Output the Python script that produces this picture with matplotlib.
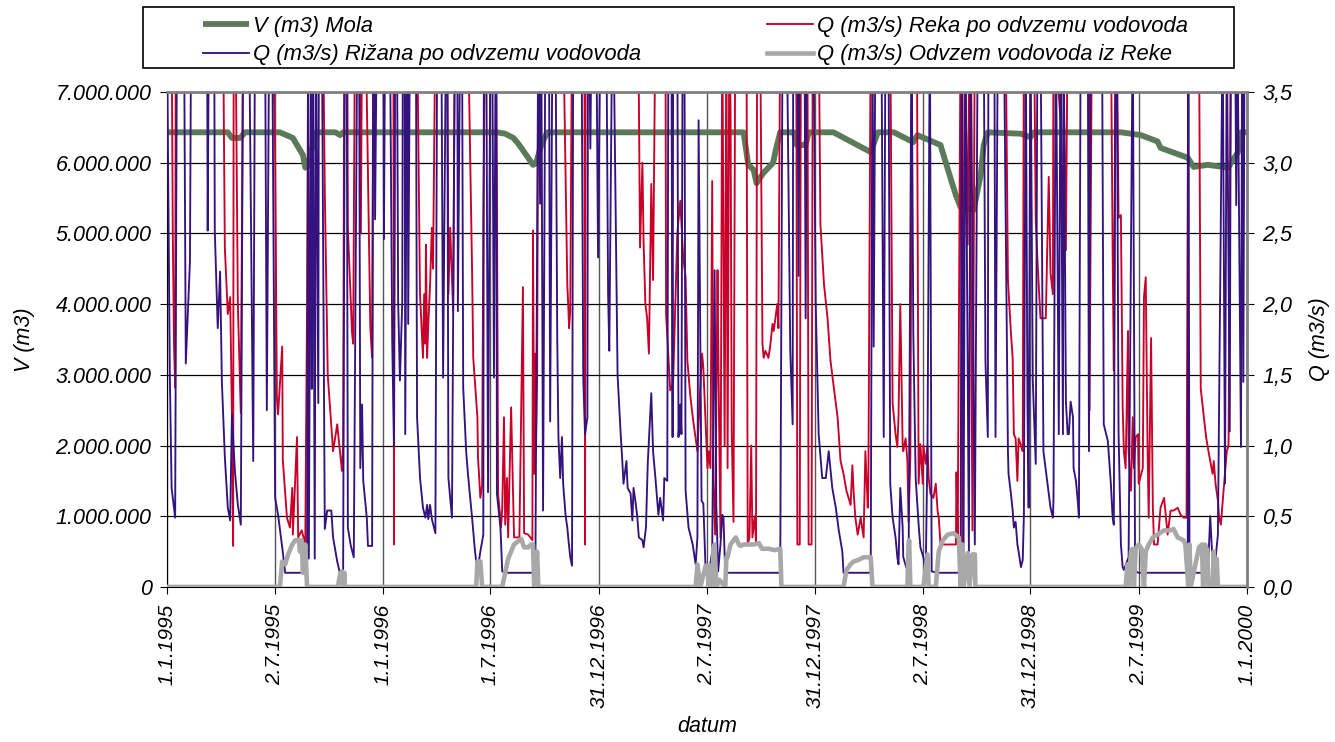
import numpy as np
import matplotlib
matplotlib.use('Agg')
from matplotlib import pyplot as plt
from matplotlib.ticker import FuncFormatter, MultipleLocator
from matplotlib.patches import Rectangle

plt.rcParams['font.family'] = ['Liberation Sans', 'DejaVu Sans']
plt.rcParams['font.style'] = 'italic'

# zacetek obdobja, vsi "dan" so dnevi od 1.1.1995
zacetek = np.datetime64('1995-01-01')

# V (m3) Mola - volumen v milijonih m3
mola_dan = [0, 103, 110, 124, 132, 191, 213, 225, 230, 234, 238, 252, 285, 293, 298,
            558, 572, 586, 594, 600, 610, 619, 624, 633, 643, 975, 983, 992, 997, 1008,
            1025, 1030, 1037, 1060, 1065, 1080, 1085, 1127, 1190, 1202, 1229, 1262, 1269,
            1308, 1325, 1334, 1342, 1364, 1376, 1381, 1388, 1444, 1460, 1466, 1613, 1647,
            1675, 1680, 1726, 1736, 1760, 1794, 1811, 1816, 1826]
mola_v = [6.43, 6.43, 6.35, 6.35, 6.43, 6.43, 6.35, 6.18, 6.11, 5.93, 5.95, 6.43, 6.43, 6.39, 6.43,
          6.43, 6.41, 6.35, 6.27, 6.20, 6.08, 5.97, 5.99, 6.25, 6.43, 6.43, 5.97, 5.90, 5.71, 5.85,
          6.00, 6.20, 6.43, 6.43, 6.25, 6.25, 6.43, 6.43, 6.15, 6.43, 6.43, 6.29, 6.39,
          6.25, 5.78, 5.54, 5.37, 5.33, 5.83, 6.25, 6.43, 6.41, 6.36, 6.43, 6.43, 6.39,
          6.30, 6.21, 6.07, 5.94, 5.97, 5.93, 6.15, 6.43, 6.43]

# Q (m3/s) Reka po odvzemu vodovoda (4.0 = nad robom grafa)
reka_dan = [0, 8, 10, 12, 14, 15, 95, 98, 103, 107, 110, 112, 113, 116, 120, 125, 129,
            179, 183, 186, 188, 195, 196, 203, 208, 212, 213, 220, 222, 228, 234, 237, 239,
            264, 267, 272, 279, 281, 288, 296, 298, 300, 305, 306, 313, 315, 318, 326, 328,
            330, 336, 344, 347, 349, 383, 384, 385, 405, 406, 408, 423, 428, 433, 435, 437,
            438, 440, 442, 445, 448, 450, 454, 474, 476, 479, 484, 487, 509, 516, 518, 525,
            526, 530, 533, 535, 538, 556, 558, 560, 565, 567, 570, 572, 575, 577, 582, 587,
            596, 602, 604, 611, 618, 619, 621, 623, 624, 626, 628, 670, 677, 679, 680, 682,
            685, 706, 707, 708, 797, 800, 804, 806, 809, 812, 815, 819, 822, 826, 843, 844,
            851, 855, 856, 863, 868, 873, 877, 880, 885, 890, 897, 902, 905, 907, 914, 916,
            919, 922, 924, 927, 931, 932, 936, 939, 943, 946, 948, 951, 953, 955, 958, 961,
            980, 982, 985, 988, 990, 994, 996, 998, 1003, 1007, 1009, 1012, 1017, 1020, 1024,
            1026, 1032, 1034, 1037, 1064, 1066, 1070, 1072, 1083, 1085, 1090, 1092, 1102,
            1105, 1111, 1117, 1122, 1127, 1134, 1139, 1144, 1149, 1156, 1159, 1161, 1164,
            1168, 1173, 1178, 1181, 1185, 1186, 1190, 1223, 1227, 1232, 1235, 1237, 1240,
            1244, 1245, 1249, 1252, 1254, 1257, 1260, 1268, 1271, 1274, 1278, 1279, 1283,
            1286, 1288, 1291, 1296, 1300, 1303, 1305, 1308, 1334, 1335, 1337, 1342, 1345,
            1349, 1354, 1357, 1362, 1366, 1418, 1422, 1427, 1430, 1432, 1435, 1438, 1440,
            1444, 1447, 1449, 1466, 1469, 1472, 1477, 1486, 1489, 1491, 1494, 1498, 1499,
            1511, 1515, 1520, 1523, 1559, 1560, 1564, 1596, 1599, 1601, 1604, 1606, 1609,
            1613, 1616, 1618, 1621, 1625, 1626, 1630, 1633, 1635, 1638, 1642, 1643, 1650,
            1652, 1655, 1658, 1660, 1664, 1667, 1669, 1675, 1680, 1686, 1692, 1697, 1702,
            1709, 1714, 1719, 1724, 1727, 1745, 1748, 1752, 1757, 1761, 1768, 1770, 1773,
            1777, 1779, 1782, 1785, 1792, 1795, 1799, 1826]
reka_q = [4.0, 4.0, 2.5, 1.72, 1.41, 4.0, 4.0, 2.4, 1.93, 2.05, 1.22, 0.29, 4.0, 4.0, 2.0, 1.23, 4.0,
          4.0, 3.1, 1.34, 1.22, 1.7, 0.9, 0.49, 0.42, 0.7, 0.37, 1.06, 0.35, 0.4, 0.3, 2.0, 4.0,
          4.0, 2.8, 1.5, 1.08, 0.96, 1.15, 0.82, 1.0, 4.0, 4.0, 2.54, 1.8, 1.72, 4.0, 4.0, 2.5,
          4.0, 4.0, 1.83, 1.62, 4.0, 4.0, 0.3, 4.0, 4.0, 2.9, 4.0, 4.0, 2.07, 1.62, 2.07, 1.72,
          2.42, 1.62, 1.86, 2.14, 2.54, 2.25, 4.0, 4.0, 2.07, 2.54, 1.95, 4.0, 4.0, 2.24, 1.62, 1.2,
          0.92, 0.63, 0.72, 2.6, 4.0, 4.0, 2.8, 0.66, 0.42, 0.56, 1.2, 0.44, 0.77, 0.35, 1.27, 0.35,
          0.35, 2.12, 0.38, 0.37, 0.33, 2.52, 0.8, 1.65, 0.96, 1.48, 4.0, 4.0, 2.14, 1.95, 1.83, 1.95,
          4.0, 4.0, 0.3, 4.0, 4.0, 2.4, 3.0, 2.44, 2.0, 1.9, 1.65, 2.85, 2.17, 4.0, 4.0, 1.93,
          1.39, 1.43, 1.46, 2.5, 2.73, 2.33, 2.19, 1.6, 1.35, 1.17, 0.96, 1.43, 1.65, 1.55, 0.84, 0.96,
          0.84, 2.87, 0.73, 0.37, 2.24, 1.76, 0.35, 4.0, 1.0, 4.0, 0.84, 4.0, 3.38, 1.1, 0.46, 4.0,
          4.0, 0.3, 0.35, 1.0, 0.35, 0.5, 0.32, 4.0, 4.0, 1.72, 1.62, 1.67, 1.62, 1.7, 1.86,
          1.81, 2.0, 1.83, 4.0, 4.0, 0.3, 0.3, 4.0, 4.0, 0.3, 0.3, 4.0, 4.0,
          2.56, 2.14, 1.9, 1.6, 1.43, 1.2, 0.89, 0.8, 0.68, 0.58, 0.86, 0.68, 0.49,
          0.37, 0.49, 0.35, 0.96, 0.56, 0.7, 4.0, 4.0, 1.3, 1.08, 0.99, 1.2, 2.0,
          1.0, 0.96, 1.05, 0.89, 0.46, 0.92, 4.0, 4.0, 0.73, 1.01, 0.73, 1.0, 0.87,
          1.0, 0.77, 0.66, 0.63, 0.73, 0.54, 0.49, 0.3, 0.3, 0.81, 0.3, 4.0, 0.3,
          4.0, 2.42, 4.0, 0.4, 4.0, 4.0, 2.17, 1.8, 1.62, 1.08, 1.05, 0.75, 1.05,
          1.0, 0.96, 4.0, 4.0, 2.6, 2.3, 1.9, 1.9, 2.5, 2.9, 2.22, 2.07, 4.0,
          3.3, 4.0, 2.38, 4.0, 4.0, 1.25, 4.0, 4.0, 2.38, 1.53, 4.0, 4.0, 2.61,
          2.63, 1.27, 0.96, 0.84, 1.81, 0.96, 0.68, 1.2, 0.84, 1.06, 1.08, 0.73, 0.84,
          2.05, 2.19, 1.0, 0.49, 1.76, 0.56, 0.3, 0.3, 0.56, 0.63, 0.37, 0.54, 0.54,
          0.56, 0.51, 0.49, 0.49, 4.0, 4.0, 1.4, 1.25, 1.06, 0.96, 0.8, 0.89, 0.73,
          0.61, 0.49, 0.44, 0.6, 0.96, 1.0, 4.0, 4.0]

# Q (m3/s) Rizana po odvzemu vodovoda
rizana_dan = [0, 5, 8, 14, 17, 29, 32, 39, 41, 68, 69, 71, 80, 81, 86, 90, 93, 98, 103, 107,
              110, 115, 120, 125, 129, 139, 146, 149, 166, 169, 173, 178, 183, 188, 195, 200,
              234, 237, 239, 240, 244, 245, 247, 250, 252, 256, 257, 262, 267, 271, 278, 281,
              288, 293, 298, 301, 304, 306, 311, 316, 322, 325, 327, 330, 332, 338, 340, 347,
              349, 351, 352, 355, 366, 367, 369, 377, 381, 384, 386, 389, 391, 394, 398, 399,
              402, 403, 406, 407, 408, 411, 421, 423, 428, 433, 437, 440, 442, 445, 448, 454,
              457, 464, 467, 472, 474, 476, 482, 487, 491, 492, 496, 499, 501, 506, 509, 516,
              521, 525, 530, 535, 536, 540, 543, 547, 550, 553, 556, 557, 558, 564, 567, 572,
              623, 628, 631, 633, 636, 640, 646, 648, 652, 657, 660, 662, 665, 668, 670, 674,
              677, 679, 682, 685, 687, 701, 704, 707, 711, 712, 714, 716, 718, 726, 729, 733,
              743, 746, 748, 753, 755, 762, 767, 770, 772, 777, 779, 784, 787, 789, 792, 795,
              798, 804, 806, 810, 813, 819, 822, 826, 829, 831, 834, 839, 841, 846, 848, 853,
              855, 856, 863, 865, 868, 870, 872, 875, 877, 882, 889, 894, 897, 899, 904, 907,
              911, 916, 922, 926, 929, 932, 936, 939, 941, 944, 1037, 1041, 1048, 1054, 1058,
              1059, 1066, 1068, 1070, 1078, 1080, 1082, 1093, 1097, 1100, 1102, 1108, 1114,
              1119, 1125, 1131, 1136, 1142, 1144, 1190, 1193, 1195, 1198, 1208, 1212, 1215,
              1220, 1223, 1227, 1232, 1235, 1237, 1240, 1244, 1245, 1250, 1254, 1259, 1262,
              1266, 1271, 1274, 1279, 1283, 1286, 1290, 1293, 1303, 1342, 1344, 1347, 1350,
              1356, 1359, 1366, 1371, 1381, 1384, 1388, 1389, 1399, 1401, 1405, 1415, 1422,
              1423, 1427, 1430, 1432, 1435, 1438, 1440, 1444, 1447, 1449, 1452, 1455, 1457,
              1460, 1464, 1469, 1472, 1477, 1482, 1489, 1494, 1498, 1499, 1503, 1508, 1511,
              1515, 1516, 1520, 1523, 1525, 1528, 1532, 1533, 1537, 1540, 1542, 1545, 1557,
              1559, 1562, 1581, 1584, 1591, 1596, 1599, 1601, 1604, 1606, 1609, 1613, 1616,
              1618, 1626, 1633, 1637, 1643, 1726, 1727, 1729, 1760, 1764, 1769, 1772, 1777,
              1785, 1789, 1792, 1797, 1799, 1806, 1808, 1810, 1816, 1818, 1820, 1822, 1826]
rizana_q = [4.0, 1.5, 0.7, 0.49, 4.0, 4.0, 1.58, 2.3, 4.0, 4.0, 2.52, 4.0, 4.0, 2.52, 1.83, 2.23, 1.45, 0.92, 0.56, 0.47,
            1.22, 0.82, 0.58, 0.44, 4.0, 4.0, 0.89, 4.0, 4.0, 1.25, 4.0, 4.0, 0.63, 0.51, 0.28, 0.1,
            0.1, 0.12, 4.0, 0.2, 4.0, 1.4, 4.0, 0.2, 4.0, 1.3, 4.0, 4.0, 0.41, 0.54, 0.54, 0.35,
            0.18, 0.09, 0.11, 4.0, 4.0, 0.42, 0.29, 0.21, 4.0, 4.0, 0.84, 1.29, 0.75, 0.49, 0.29, 0.29,
            4.0, 4.0, 2.6, 4.0, 4.0, 2.46, 4.0, 4.0, 1.74, 1.0, 4.0, 4.0, 2.02, 1.46, 2.02, 4.0,
            4.0, 1.08, 4.0, 4.0, 1.86, 4.0, 4.0, 1.2, 0.77, 0.56, 0.49, 0.58, 0.48, 0.58, 0.48, 0.38,
            4.0, 4.0, 1.48, 4.0, 4.0, 0.77, 0.49, 4.0, 4.0, 1.95, 4.0, 4.0, 1.41, 0.96, 0.8, 0.49,
            0.25, 0.11, 0.25, 0.37, 4.0, 4.0, 0.67, 4.0, 4.0, 1.48, 4.0, 4.0, 0.66, 0.42, 0.11, 0.1,
            0.1, 4.0, 2.71, 4.0, 0.54, 4.0, 4.0, 1.17, 4.0, 4.0, 1.76, 1.06, 0.77, 1.06, 0.73, 0.51,
            0.42, 0.33, 0.21, 0.15, 4.0, 4.0, 1.48, 1.08, 1.2, 4.0, 4.0, 3.1, 4.0, 4.0, 2.33, 4.0,
            4.0, 2.07, 1.67, 4.0, 4.0, 1.5, 1.1, 0.89, 0.73, 0.89, 0.7, 0.66, 0.47, 0.7, 0.61, 0.51,
            0.35, 0.33, 0.28, 0.42, 0.87, 1.37, 0.96, 0.77, 0.61, 0.51, 0.63, 0.47, 0.77, 0.75, 4.0, 4.0,
            1.06, 4.0, 4.0, 1.06, 1.29, 1.08, 4.0, 4.0, 0.68, 0.42, 0.3, 0.16, 0.35, 3.3, 0.61, 0.59,
            0.1, 0.09, 0.25, 2.24, 0.56, 0.11, 0.3, 0.51, 0.49, 0.1, 0.1, 4.0, 4.0, 1.67, 1.15,
            4.0, 4.0, 2.2, 4.0, 4.0, 1.9, 4.0, 4.0, 2.0, 1.46, 1.08, 0.77, 0.77,
            0.96, 0.7, 0.56, 0.4, 0.25, 0.1, 0.1, 4.0, 1.7, 4.0, 4.0, 1.06, 4.0,
            4.0, 0.73, 0.49, 0.35, 0.21, 0.16, 0.7, 0.42, 0.21, 0.14, 0.11, 4.0, 1.8,
            0.77, 0.44, 0.28, 0.21, 0.11, 0.99, 4.0, 0.11, 0.1, 0.1, 4.0, 0.3, 4.0,
            0.25, 4.0, 0.3, 4.0, 4.0, 1.59, 1.06, 4.0, 4.0, 1.06, 4.0, 4.0, 0.96,
            0.8, 0.66, 0.54, 0.42, 0.46, 0.3, 0.25, 0.14, 0.19, 0.51, 4.0, 1.29, 0.56,
            4.0, 1.46, 0.87, 4.0, 4.0, 0.96, 0.73, 0.56, 0.49, 0.61, 4.0, 1.08, 4.0,
            1.08, 4.0, 1.31, 1.08, 1.08, 1.31, 1.2, 0.84, 0.75, 0.61, 0.49, 4.0, 4.0,
            0.96, 4.0, 4.0, 1.15, 1.03, 0.73, 0.49, 0.44, 4.0, 4.0, 1.1, 0.3, 0.14,
            0.12, 0.21, 4.0, 0.11, 0.1, 0.1, 4.0, 0.1, 0.1, 0.5, 0.09, 0.16, 0.37,
            4.0, 0.73, 4.0, 1.1, 4.0, 4.0, 2.7, 4.0, 0.99, 4.0, 1.45, 4.0, 4.0]

# Q (m3/s) Odvzem vodovoda iz Reke
odvzem_dan = [0, 191, 195, 200, 205, 212, 217, 223, 225, 228, 230, 234, 237, 289, 293, 296, 298,
              300, 301, 523, 525, 530, 533, 567, 572, 577, 582, 587, 599, 604, 611, 616, 619, 621,
              626, 628, 894, 897, 902, 911, 914, 916, 919, 922, 924, 926, 929, 934, 944, 946, 948,
              953, 958, 962, 967, 970, 975, 982, 992, 1001, 1006, 1017, 1028, 1037, 1039, 1144,
              1149, 1156, 1161, 1169, 1178, 1190, 1193, 1252, 1254, 1255, 1257, 1279, 1286, 1288,
              1300, 1305, 1312, 1320, 1330, 1339, 1342, 1345, 1347, 1354, 1357, 1362, 1366, 1367,
              1621, 1624, 1626, 1630, 1633, 1635, 1638, 1643, 1648, 1652, 1655, 1660, 1667, 1675,
              1686, 1697, 1702, 1709, 1719, 1722, 1727, 1729, 1731, 1745, 1750, 1752, 1755, 1759,
              1761, 1768, 1770, 1772, 1775, 1777, 1826]
odvzem_q = [0, 0, 0.18, 0.16, 0.23, 0.3, 0.33, 0.33, 0.25, 0.33, 0.1, 0.3, 0, 0, 0.09, 0.11, 0,
            0.1, 0, 0, 0.18, 0.18, 0, 0, 0.1, 0.2, 0.25, 0.3, 0.34, 0.28, 0.28, 0.3, 0.3, 0,
            0.25, 0, 0, 0.16, 0, 0.15, 0.15, 0, 0.15, 0, 0.28, 0.3, 0, 0.05, 0, 0.21, 0.21,
            0.3, 0.33, 0.35, 0.3, 0.29, 0.3, 0.3, 0.3, 0.31, 0.27, 0.27, 0.26, 0.27, 0, 0,
            0.12, 0.16, 0.18, 0.19, 0.21, 0.21, 0, 0, 0.3, 0.33, 0, 0, 0.23, 0,
            0, 0.25, 0.33, 0.37, 0.38, 0.35, 0, 0.3, 0, 0.24, 0, 0.23, 0.23, 0,
            0, 0.16, 0, 0.25, 0.27, 0, 0.27, 0.3, 0.27, 0, 0.25, 0.3, 0.35, 0.37,
            0.4, 0.4, 0.41, 0.35, 0.33, 0.3, 0, 0.3, 0, 0.28, 0.3, 0, 0.3, 0.26,
            0, 0, 0.25, 0, 0.2, 0, 0]

# oznake na x osi
datumi_oznak = ['1995-01-01', '1995-07-02', '1996-01-01', '1996-07-01', '1996-12-31', '1997-07-02',
                '1997-12-31', '1998-07-02', '1998-12-31', '1999-07-02', '2000-01-01']


def v_datum(dnevi):
    return zacetek + np.array(dnevi).astype('timedelta64[D]')


fig, ax1 = plt.subplots(figsize=(13.35, 7.42), dpi=100)
fig.subplots_adjust(left=0.125, right=0.934, top=0.876, bottom=0.209)
ax2 = ax1.twinx()

# leva os - volumen
l_mola, = ax1.plot(v_datum(mola_dan), np.array(mola_v) * 1e6, color='#5a7a5a', lw=4.2,
                   solid_capstyle='butt', label='V (m3) Mola')
# desna os - pretoki
l_reka, = ax2.plot(v_datum(reka_dan), reka_q, color='#c8002a', lw=1.35,
                   label='Q (m3/s) Reka po odvzemu vodovoda')
l_riz, = ax2.plot(v_datum(rizana_dan), rizana_q, color='#35137e', lw=1.35,
                  label='Q (m3/s) Rižana po odvzemu vodovoda')
l_odv, = ax2.plot(v_datum(odvzem_dan), odvzem_q, color='#a8a8a8', lw=3.3,
                  label='Q (m3/s) Odvzem vodovoda iz Reke')

ax1.set_ylim(0, 7e6)
ax2.set_ylim(0, 3.5)
ax1.set_xlim(np.datetime64('1995-01-01'), np.datetime64('2000-01-01'))

ax1.yaxis.set_major_locator(MultipleLocator(1e6))
ax1.yaxis.set_major_formatter(FuncFormatter(lambda v, p: f"{int(round(v)):,}".replace(',', '.')))
ax2.yaxis.set_major_locator(MultipleLocator(0.5))
ax2.yaxis.set_major_formatter(FuncFormatter(lambda v, p: f"{v:.1f}".replace('.', ',')))

tick_datumi = [np.datetime64(d) for d in datumi_oznak]
tick_oznake = [f"{int(d[8:])}.{int(d[5:7])}.{d[:4]}" for d in datumi_oznak]
ax1.set_xticks(tick_datumi)
ax1.set_xticklabels(tick_oznake, rotation=90, fontsize=15)

ax1.grid(axis='y', color='black', lw=0.9)
ax1.grid(axis='x', color='#555555', lw=1.0)
ax1.set_axisbelow(True)

ax1.tick_params(axis='y', labelsize=15.5, direction='out', length=5, pad=6)
ax2.tick_params(axis='y', labelsize=15.5, direction='out', length=5, pad=6)
ax1.tick_params(axis='x', direction='out', length=5, pad=7)

ax1.set_ylabel('V (m3)', fontsize=15.5, labelpad=15)
ax2.set_ylabel('Q (m3/s)', fontsize=15.5, labelpad=12)
ax1.set_xlabel('datum', fontsize=15.5, labelpad=6)

for s in ['top', 'right']:
    ax1.spines[s].set_visible(False)
    ax2.spines[s].set_color('#808080')
    ax2.spines[s].set_linewidth(2)
ax2.spines['left'].set_visible(False)
ax2.spines['bottom'].set_visible(False)
ax1.spines['left'].set_color('black')
ax1.spines['bottom'].set_color('black')

# legenda z okvirjem
fig.patches.append(Rectangle((0.107, 0.908), 0.817, 0.082, transform=fig.transFigure,
                             fill=False, edgecolor='black', lw=1.2))
fig.legend(handles=[l_mola, l_riz, l_reka, l_odv], ncol=2, loc='upper left',
           bbox_to_anchor=(0.152, 0.979), frameon=False, fontsize=15.8,
           handlelength=2.1, handletextpad=0.2, columnspacing=5.7,
           labelspacing=0.35, borderpad=0, borderaxespad=0)

plt.savefig('out.png', dpi=100)
